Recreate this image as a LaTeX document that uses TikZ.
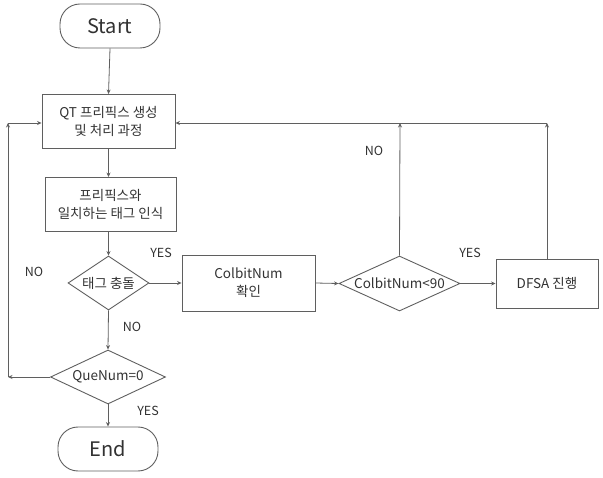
\documentclass[tikz,border=0pt]{standalone}
\usepackage{fontspec}
\setmainfont{Noto Sans CJK KR}
\usetikzlibrary{shapes.geometric,arrows.meta}
\definecolor{linec}{RGB}{95,95,95}
\definecolor{textc}{RGB}{50,50,50}
\tikzset{
  every node/.style={text=textc, font=\fontsize{13.5}{18}\selectfont},
  flow/.style={draw=linec, line width=0.8pt, -{Stealth[length=4.5pt,width=4pt]}},
  terminal/.style={draw=linec, line width=0.9pt, rounded corners=20pt, minimum width=100pt, minimum height=44pt, inner sep=0pt, font=\fontsize{20}{24}\selectfont},
  procbox/.style={draw=linec, line width=0.9pt, minimum width=133pt, minimum height=54pt, inner sep=0pt, align=center},
  decision/.style={draw=linec, line width=0.9pt, diamond, inner sep=0pt},
  tag/.style={font=\fontsize{12.5}{15}\selectfont}
}
\begin{document}
\begin{tikzpicture}[x=1pt,y=-1pt]
\useasboundingbox (0,0) rectangle (603,478);

% main column
\node[terminal] (start) at (110,26) {Start};
\node[procbox] (qt) at (108.5,121.5) {QT 프리픽스 생성\\및 처리 과정};
\node[procbox, minimum width=131pt] (match) at (110.5,204.5) {프리픽스와\\일치하는 태그 인식};
\node[decision, minimum width=81pt, minimum height=54pt,
      label={center:태그 충돌}] (coll) at (108.5,283) {};
\node[decision, minimum width=115pt, minimum height=54pt,
      label={center:QueNum=0}] (que) at (108,377) {};
\node[terminal] (end) at (108,449) {End};

% right branch
\node[procbox, minimum width=133pt, minimum height=56pt] (cnum) at (248.5,283) {ColbitNum\\확인};
\node[decision, minimum width=121pt, minimum height=55pt,
      label={center:ColbitNum<90}] (thr) at (399.5,283.5) {};
\node[procbox, minimum width=102pt, minimum height=49pt] (dfsa) at (547,283.5) {DFSA 진행};

% loop-back points
\coordinate (lb) at (8,377);
\coordinate (lt) at (8,123);
\coordinate (rn) at (400,123);
\coordinate (rd) at (547,123);

% connectors
\draw[flow] (start.south) -- (qt.north);
\draw[flow] (qt.south) -- (match.north -| qt.south);
\draw[flow] (match.south -| qt.south) -- (coll.north);
\draw[flow] (coll.east) -- (cnum.west);
\draw[flow] (coll.south) -- (que.north);
\draw[flow] (que.south) -- (end.north);
\draw[flow] (cnum.east) -- (thr.west);
\draw[flow] (thr.east) -- (dfsa.west);
\draw[flow] (thr.north) -- (rn);
\draw[flow] (dfsa.north) -- (rd);
\draw[flow] (rd) -- (qt.east |- rd);
\draw[flow] (que.west) -- (lb);
\draw[flow] (lb) -- (lt);
\draw[flow] (lt) -- (qt.west |- lt);

% branch labels
\node[tag] (y1) at (161,253) {YES};
\node[tag] (n1) at (34,272) {NO};
\node[tag] (n2) at (132,327) {NO};
\node[tag] (y2) at (148,411) {YES};
\node[tag] (n3) at (374,151) {NO};
\node[tag] (y3) at (470,253) {YES};
\end{tikzpicture}
\end{document}
